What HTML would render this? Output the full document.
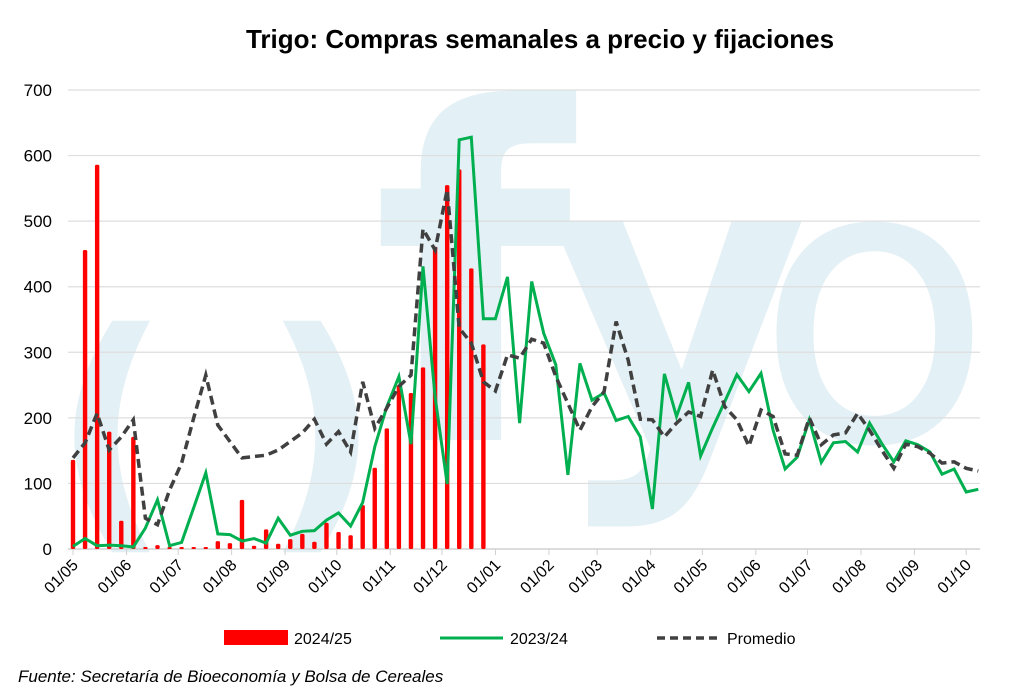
<!DOCTYPE html>
<html><head><meta charset="utf-8"><style>
body{margin:0;background:#fff;width:1024px;height:691px;overflow:hidden;font-family:"Liberation Sans",sans-serif}
</style></head><body>
<svg id="chart" width="1024" height="691" viewBox="0 0 1024 691" xmlns="http://www.w3.org/2000/svg" font-family="Liberation Sans, sans-serif">
<rect width="1024" height="691" fill="#fff"/>
<g id="watermark" fill="#e3f0f5" font-family="DejaVu Sans, sans-serif">
<text x="52" y="518" font-size="260" font-weight="bold">(</text>
<text x="262" y="518" font-size="260" font-weight="bold">)</text>
<text x="372" y="440" font-size="460" font-weight="bold">f</text>
<text x="548" y="440" font-size="400" font-weight="bold">y</text>
<text x="755" y="440" font-size="390">o</text>
</g>
<text x="540" y="48" text-anchor="middle" font-size="26" font-weight="bold" fill="#000">Trigo: Compras semanales a precio y fijaciones</text>
<g id="grid"></g><g id="yaxis"></g><g id="xaxis"></g><g id="bars"></g><g id="lines"></g>
<g id="legend">
<rect x="224" y="630" width="64" height="15" fill="#ff0000"/>
<text x="294" y="644" font-size="16">2024/25</text>
<line x1="440" y1="638" x2="503" y2="638" stroke="#00b050" stroke-width="3"/>
<text x="510" y="644" font-size="16">2023/24</text>
<line x1="657" y1="638" x2="720" y2="638" stroke="#404040" stroke-width="3.5" stroke-dasharray="8,5"/>
<text x="727" y="644" font-size="16">Promedio</text>
</g>
<text x="18" y="682" font-size="17" font-style="italic">Fuente: Secretaría de Bioeconomía y Bolsa de Cereales</text>
</svg>
<script>
const yTicks=[0,100,200,300,400,500,600,700];
const monthLabels=["01/05","01/06","01/07","01/08","01/09","01/10","01/11","01/12","01/01","01/02","01/03","01/04","01/05","01/06","01/07","01/08","01/09","01/10"];
const monthDays=[0,31,61,92,123,153,184,214,245,276,304,335,365,396,426,457,488,518];
const s2425=[136,456,586,179,43,171,2,6,2,1,2,1,12,9,75,5,30,8,15,23,11,40,26,21,67,124,184,250,238,277,461,555,579,428,312];
const s2324=[4,16,5,6,5,3,32,75,5,10,63,116,23,22,12,16,9,47,21,27,28,44,55,35,71,156,217,263,160,431,232,99,624,628,351,351,415,192,408,329,281,113,283,227,238,196,202,171,61,267,202,254,142,185,225,266,240,268,181,122,140,197,132,162,164,148,192,161,133,165,159,148,114,122,87,91];
const promedio=[139,162,207,151,171,197,47,37,90,131,200,265,189,164,139,141,143,151,164,177,198,160,179,148,255,184,215,248,265,488,456,548,337,314,255,241,296,291,320,314,263,222,181,217,240,347,288,198,197,171,192,209,202,273,217,197,157,212,202,145,143,200,159,174,177,207,181,151,123,160,156,146,131,133,123,119];
const NS="http://www.w3.org/2000/svg";
const X0=73,DX=12.07,Y0=549,YS=459/700;
function xs(i){return X0+i*DX;}
function ys(v){return Y0-v*YS;}
function mk(t,a,p){const e=document.createElementNS(NS,t);for(const k in a)e.setAttribute(k,a[k]);document.getElementById(p).appendChild(e);return e;}
yTicks.forEach(v=>{
 const g=mk('line',{x1:68,x2:980,y1:ys(v),y2:ys(v),stroke:v===0?'#d0d0d0':'#dedede','stroke-width':v===0?1.5:1.2},'grid');
 
 
 const t=mk('text',{x:52,y:ys(v)+6,'text-anchor':'end','font-size':17,fill:'#000'},'yaxis');t.textContent=v;
 
 
});
monthDays.forEach((d,k)=>{
 const x=xs(d/7);
 const tk=mk('line',{x1:x,x2:x,y1:549,y2:555,stroke:'#d0d0d0','stroke-width':1},'xaxis');
 
 
 const t=mk('text',{x:x+6,y:566,'text-anchor':'end','font-size':16,fill:'#000',transform:`rotate(-45 ${x+6} 566)`},'xaxis');t.textContent=monthLabels[k];
 
 
});
s2425.forEach((v,i)=>{
 const h=Math.max(v*YS,2);
 const b=mk('rect',{x:xs(i)-2.2,y:Y0-h,width:4.4,height:h,rx:1.5,fill:'#ff0000'},'bars');
 
 
});
function pts(a){return a.map((v,i)=>xs(i).toFixed(1)+','+ys(v).toFixed(1)).join(' ');}
const g1=mk('polyline',{points:pts(s2324),fill:'none',stroke:'#00b050','stroke-width':3,'stroke-linejoin':'miter'},'lines');


const g2=mk('polyline',{points:pts(promedio),fill:'none',stroke:'#404040','stroke-width':3.5,'stroke-dasharray':'9,5'},'lines');


</script>
</body></html>
